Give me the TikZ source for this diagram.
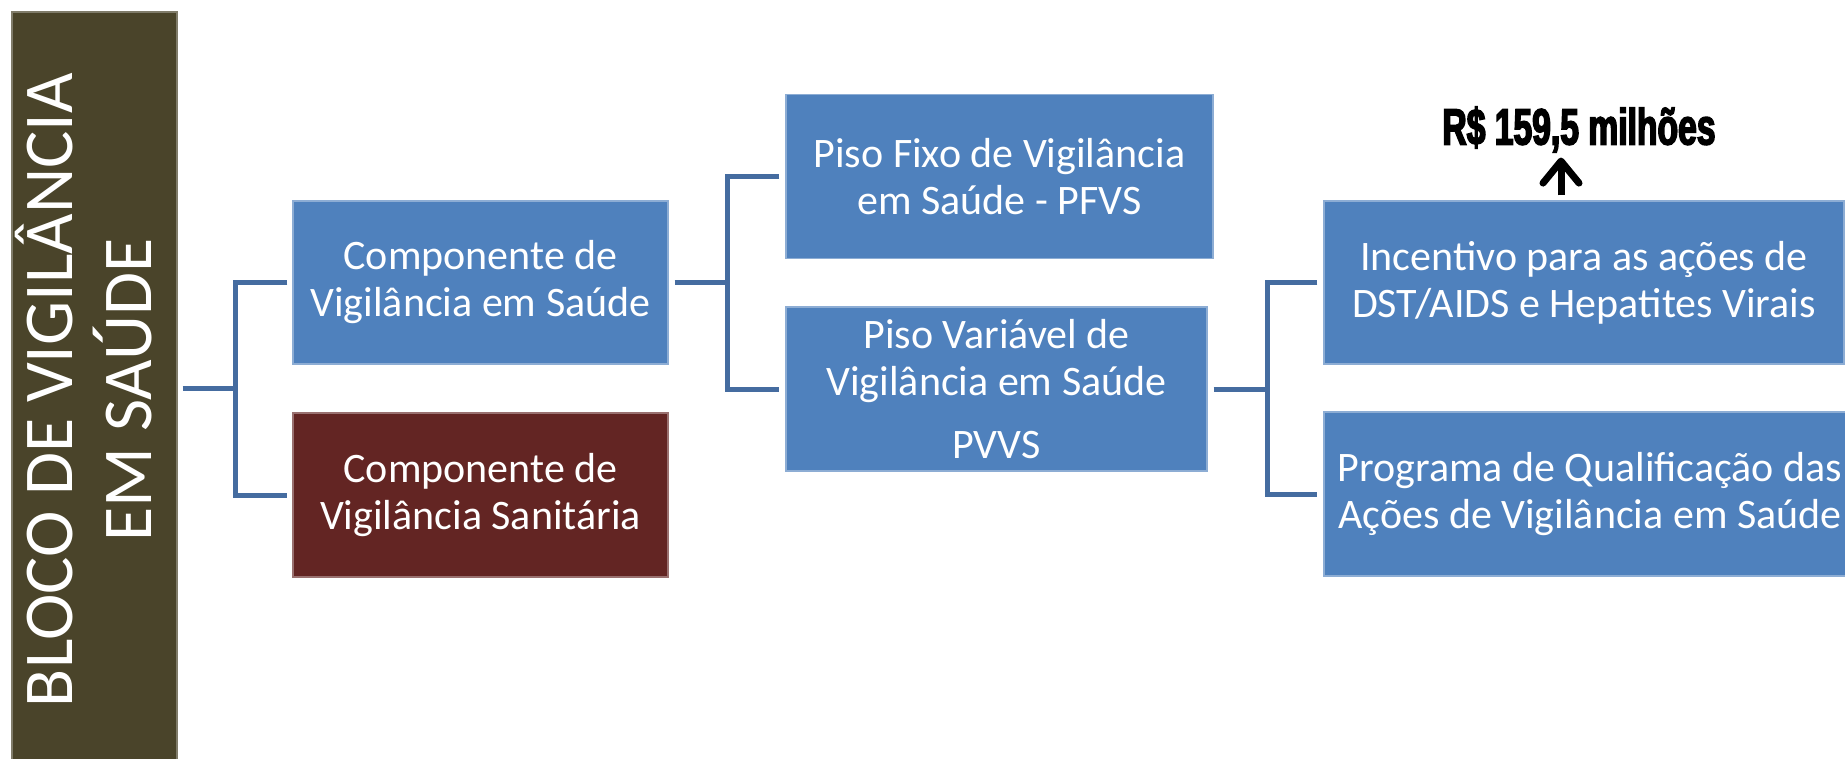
\documentclass[tikz,border=0pt]{standalone}
\usepackage{fontspec}
\setmainfont{Carlito}
\newfontfamily\impactish{Liberation Sans}[FakeStretch=0.66,FakeBold=3]
\usetikzlibrary{arrows.meta}
\definecolor{blocoC}{HTML}{4A442A}
\definecolor{boxblue}{HTML}{4F81BD}
\definecolor{boxred}{HTML}{632523}
\definecolor{linkblue}{HTML}{456CA0}
\begin{document}
\begin{tikzpicture}[x=1pt,y=-1pt,
  box/.style={rectangle, fill=boxblue, draw=boxblue!65!white, line width=1.2pt,
    text=white, align=center, inner sep=0pt,
    font=\fontsize{42}{47}\selectfont},
  link/.style={draw=linkblue, line width=5pt, line join=miter},
  uparrow/.style={draw=black, line width=7pt,
    -{Straight Barb[length=22pt,width=36pt,round]}}]
\useasboundingbox (0,0) rectangle (1845,759);
% left block
\node[box, fill=blocoC, draw=blocoC!70!white,
      minimum width=165pt, minimum height=758pt] (bloco) at (94.5,391) {};
\node[rotate=90, text=white, align=center, inner sep=0pt,
      font=\fontsize{70}{79}\selectfont] (blocotxt) at (84,390)
      {BLOCO DE VIGILÂNCIA\\EM SAÚDE};
% level 1
\node[box, minimum width=375pt, minimum height=163pt] (cvs) at (480.5,282.5)
      {Componente de\\Vigilância em Saúde};
\node[box, fill=boxred, draw=boxred!65!white, minimum width=375pt, minimum height=164pt] (cvsan) at (480.5,495)
      {Componente de\\Vigilância Sanitária};
% level 2
\node[box, minimum width=427pt, minimum height=164pt] (pfvs) at (999.5,176.5)
      {Piso Fixo de Vigilância\\em Saúde - PFVS};
\node[box, minimum width=421pt, minimum height=164pt] (pvvs) at (996.5,389)
      {Piso Variável de\\Vigilância em Saúde\\[16pt]PVVS};
% level 3
\node[box, minimum width=520pt, minimum height=163pt] (inc) at (1584,282.5)
      {Incentivo para as ações de\\DST/AIDS e Hepatites Virais};
\node[box, minimum width=532pt, minimum height=164pt] (prog) at (1590,494)
      {Programa de Qualificação das\\Ações de Vigilância em Saúde};
% label
\node[anchor=base, inner sep=0pt,
      font=\impactish\bfseries\fontsize{51}{51}\selectfont] (money) at (1579,144.5)
      {R\$ 159,5 milhões};
% connectors
\coordinate (b1) at ([xshift=5pt]bloco.east);
\coordinate (j1) at (235,388.5);
\draw[link] (b1 |- j1) -- (j1);
\draw[link] ([xshift=-5pt]cvs.west) -| (j1 |- cvsan.west) -- ([xshift=-5pt]cvsan.west);
\coordinate (j2) at (727,0);
\draw[link] ([xshift=6pt]cvs.east) -- (j2 |- cvs.east);
\draw[link] ([xshift=-6pt]pfvs.west) -| (j2 |- pvvs.west) -- ([xshift=-6pt]pvvs.west);
\coordinate (j3) at (1267,0);
\draw[link] ([xshift=6pt]pvvs.east) -- (j3 |- pvvs.east);
\draw[link] ([xshift=-6pt]inc.west) -| (j3 |- prog.west) -- ([xshift=-6pt]prog.west);
% arrow
\coordinate (abase) at ([xshift=-23pt,yshift=5pt]inc.north);
\coordinate (atip) at ([yshift=-5pt]abase |- money.south);
\draw[uparrow] (abase) -- (atip);
\end{tikzpicture}
\end{document}
